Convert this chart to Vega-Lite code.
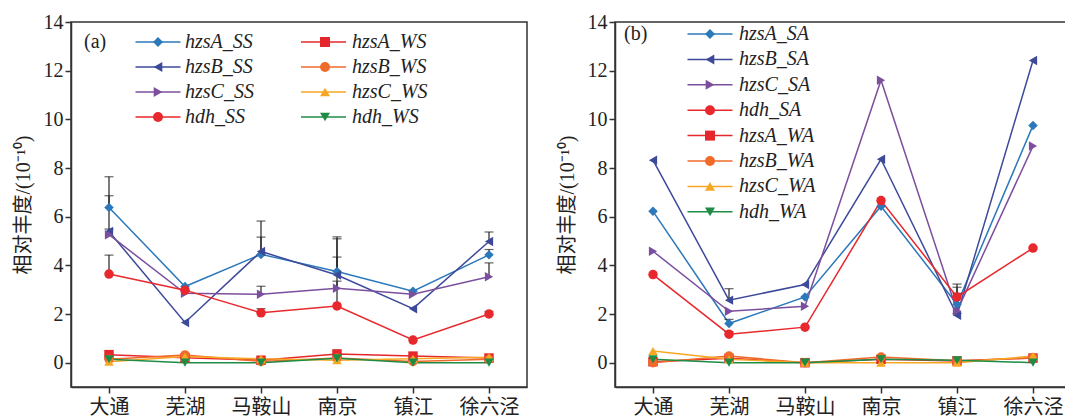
{
  "$schema": "https://vega.github.io/schema/vega-lite/v6.json",
  "background": "white",
  "padding": {"left": 12, "top": 11, "right": 0, "bottom": 0},
  "spacing": 28,
  "resolve": {"scale": {"color": "independent", "shape": "independent", "stroke": "independent", "y": "independent", "x": "independent"}, "legend": {"color": "independent", "shape": "independent", "stroke": "independent"}},
  "config": {
    "font": "Liberation Serif",
    "view": {"stroke": "#333333", "strokeWidth": 1.5},
    "axis": {
      "grid": false, "domainColor": "#333333", "domainWidth": 1.5,
      "tickColor": "#333333", "tickWidth": 1.5, "tickSize": 6,
      "labelFont": "Liberation Serif", "labelFontSize": 20, "labelColor": "#222222",
      "titleFont": "Liberation Serif, Noto Sans CJK SC", "titleFontSize": 20, "titleFontWeight": "normal", "titleColor": "#222222"
    },
    "legend": {
      "labelFont": "Liberation Serif", "labelFontStyle": "italic", "labelFontSize": 20, "labelColor": "#222222",
      "titleFont": "Liberation Serif", "titleFontStyle": "normal", "titleFontSize": 20, "titleFontWeight": "normal", "titleColor": "#222222",
      "titleOrient": "left", "titleAnchor": "start", "titleBaseline": "top",
      "symbolSize": 100, "symbolStrokeWidth": 1.5, "padding": 0, "rowPadding": 5
    }
  },
  "datasets": {
    "a": [
      {"site": "大通", "series": "hzsA_SS", "value": 6.38},
      {"site": "芜湖", "series": "hzsA_SS", "value": 3.13},
      {"site": "马鞍山", "series": "hzsA_SS", "value": 4.45},
      {"site": "南京", "series": "hzsA_SS", "value": 3.75},
      {"site": "镇江", "series": "hzsA_SS", "value": 2.94},
      {"site": "徐六泾", "series": "hzsA_SS", "value": 4.43},
      {"site": "大通", "series": "hzsB_SS", "value": 5.39},
      {"site": "芜湖", "series": "hzsB_SS", "value": 1.65},
      {"site": "马鞍山", "series": "hzsB_SS", "value": 4.57},
      {"site": "南京", "series": "hzsB_SS", "value": 3.6},
      {"site": "镇江", "series": "hzsB_SS", "value": 2.22},
      {"site": "徐六泾", "series": "hzsB_SS", "value": 4.98},
      {"site": "大通", "series": "hzsC_SS", "value": 5.26},
      {"site": "芜湖", "series": "hzsC_SS", "value": 2.85},
      {"site": "马鞍山", "series": "hzsC_SS", "value": 2.81},
      {"site": "南京", "series": "hzsC_SS", "value": 3.06},
      {"site": "镇江", "series": "hzsC_SS", "value": 2.81},
      {"site": "徐六泾", "series": "hzsC_SS", "value": 3.53},
      {"site": "大通", "series": "hdh_SS", "value": 3.64},
      {"site": "芜湖", "series": "hdh_SS", "value": 2.98},
      {"site": "马鞍山", "series": "hdh_SS", "value": 2.05},
      {"site": "南京", "series": "hdh_SS", "value": 2.33},
      {"site": "镇江", "series": "hdh_SS", "value": 0.93},
      {"site": "徐六泾", "series": "hdh_SS", "value": 2.0},
      {"site": "大通", "series": "hzsA_WS", "value": 0.33},
      {"site": "芜湖", "series": "hzsA_WS", "value": 0.2},
      {"site": "马鞍山", "series": "hzsA_WS", "value": 0.1},
      {"site": "南京", "series": "hzsA_WS", "value": 0.36},
      {"site": "镇江", "series": "hzsA_WS", "value": 0.27},
      {"site": "徐六泾", "series": "hzsA_WS", "value": 0.19},
      {"site": "大通", "series": "hzsB_WS", "value": 0.14},
      {"site": "芜湖", "series": "hzsB_WS", "value": 0.32},
      {"site": "马鞍山", "series": "hzsB_WS", "value": 0.05},
      {"site": "南京", "series": "hzsB_WS", "value": 0.19},
      {"site": "镇江", "series": "hzsB_WS", "value": 0.05},
      {"site": "徐六泾", "series": "hzsB_WS", "value": 0.14},
      {"site": "大通", "series": "hzsC_WS", "value": 0.04},
      {"site": "芜湖", "series": "hzsC_WS", "value": 0.25},
      {"site": "马鞍山", "series": "hzsC_WS", "value": 0.16},
      {"site": "南京", "series": "hzsC_WS", "value": 0.1},
      {"site": "镇江", "series": "hzsC_WS", "value": 0.16},
      {"site": "徐六泾", "series": "hzsC_WS", "value": 0.22},
      {"site": "大通", "series": "hdh_WS", "value": 0.14},
      {"site": "芜湖", "series": "hdh_WS", "value": 0.0},
      {"site": "马鞍山", "series": "hdh_WS", "value": 0.0},
      {"site": "南京", "series": "hdh_WS", "value": 0.18},
      {"site": "镇江", "series": "hdh_WS", "value": 0.0},
      {"site": "徐六泾", "series": "hdh_WS", "value": 0.0}
    ],
    "aerr": [
      {"site": "大通", "series": "hzsA_SS", "value": 6.38, "upper": 7.64},
      {"site": "大通", "series": "hzsB_SS", "value": 5.39, "upper": 6.86},
      {"site": "大通", "series": "hzsC_SS", "value": 5.26, "upper": 5.49},
      {"site": "大通", "series": "hdh_SS", "value": 3.64, "upper": 4.42},
      {"site": "马鞍山", "series": "hzsA_SS", "value": 4.45, "upper": 5.16},
      {"site": "马鞍山", "series": "hzsB_SS", "value": 4.57, "upper": 5.82},
      {"site": "马鞍山", "series": "hzsC_SS", "value": 2.81, "upper": 3.14},
      {"site": "马鞍山", "series": "hdh_SS", "value": 2.05, "upper": 2.22},
      {"site": "南京", "series": "hzsA_SS", "value": 3.75, "upper": 5.17},
      {"site": "南京", "series": "hzsB_SS", "value": 3.6, "upper": 5.09},
      {"site": "南京", "series": "hzsC_SS", "value": 3.06, "upper": 3.35},
      {"site": "南京", "series": "hdh_SS", "value": 2.33, "upper": 4.34},
      {"site": "徐六泾", "series": "hzsA_SS", "value": 4.43, "upper": 4.65},
      {"site": "徐六泾", "series": "hzsB_SS", "value": 4.98, "upper": 5.37},
      {"site": "徐六泾", "series": "hzsC_SS", "value": 3.53, "upper": 4.1},
      {"site": "徐六泾", "series": "hdh_SS", "value": 2.0, "upper": 2.11}
    ],
    "b": [
      {"site": "大通", "series": "hzsA_SA", "value": 6.22},
      {"site": "芜湖", "series": "hzsA_SA", "value": 1.61},
      {"site": "马鞍山", "series": "hzsA_SA", "value": 2.7},
      {"site": "南京", "series": "hzsA_SA", "value": 6.43},
      {"site": "镇江", "series": "hzsA_SA", "value": 2.4},
      {"site": "徐六泾", "series": "hzsA_SA", "value": 9.75},
      {"site": "大通", "series": "hzsB_SA", "value": 8.32},
      {"site": "芜湖", "series": "hzsB_SA", "value": 2.57},
      {"site": "马鞍山", "series": "hzsB_SA", "value": 3.21},
      {"site": "南京", "series": "hzsB_SA", "value": 8.36},
      {"site": "镇江", "series": "hzsB_SA", "value": 1.95},
      {"site": "徐六泾", "series": "hzsB_SA", "value": 12.42},
      {"site": "大通", "series": "hzsC_SA", "value": 4.58},
      {"site": "芜湖", "series": "hzsC_SA", "value": 2.11},
      {"site": "马鞍山", "series": "hzsC_SA", "value": 2.32},
      {"site": "南京", "series": "hzsC_SA", "value": 11.61},
      {"site": "镇江", "series": "hzsC_SA", "value": 2.12},
      {"site": "徐六泾", "series": "hzsC_SA", "value": 8.9},
      {"site": "大通", "series": "hdh_SA", "value": 3.62},
      {"site": "芜湖", "series": "hdh_SA", "value": 1.17},
      {"site": "马鞍山", "series": "hdh_SA", "value": 1.46},
      {"site": "南京", "series": "hdh_SA", "value": 6.66},
      {"site": "镇江", "series": "hdh_SA", "value": 2.7},
      {"site": "徐六泾", "series": "hdh_SA", "value": 4.71},
      {"site": "大通", "series": "hzsA_WA", "value": 0.04},
      {"site": "芜湖", "series": "hzsA_WA", "value": 0.18},
      {"site": "马鞍山", "series": "hzsA_WA", "value": 0.0},
      {"site": "南京", "series": "hzsA_WA", "value": 0.14},
      {"site": "镇江", "series": "hzsA_WA", "value": 0.07},
      {"site": "徐六泾", "series": "hzsA_WA", "value": 0.19},
      {"site": "大通", "series": "hzsB_WA", "value": 0.0},
      {"site": "芜湖", "series": "hzsB_WA", "value": 0.27},
      {"site": "马鞍山", "series": "hzsB_WA", "value": 0.0},
      {"site": "南京", "series": "hzsB_WA", "value": 0.23},
      {"site": "镇江", "series": "hzsB_WA", "value": 0.08},
      {"site": "徐六泾", "series": "hzsB_WA", "value": 0.2},
      {"site": "大通", "series": "hzsC_WA", "value": 0.48},
      {"site": "芜湖", "series": "hzsC_WA", "value": 0.14},
      {"site": "马鞍山", "series": "hzsC_WA", "value": 0.0},
      {"site": "南京", "series": "hzsC_WA", "value": 0.0},
      {"site": "镇江", "series": "hzsC_WA", "value": 0.0},
      {"site": "徐六泾", "series": "hzsC_WA", "value": 0.27},
      {"site": "大通", "series": "hdh_WA", "value": 0.14},
      {"site": "芜湖", "series": "hdh_WA", "value": 0.0},
      {"site": "马鞍山", "series": "hdh_WA", "value": 0.0},
      {"site": "南京", "series": "hdh_WA", "value": 0.14},
      {"site": "镇江", "series": "hdh_WA", "value": 0.1},
      {"site": "徐六泾", "series": "hdh_WA", "value": 0.0}
    ],
    "berr": [
      {"site": "芜湖", "series": "hzsB_SA", "value": 2.57, "upper": 3.04},
      {"site": "芜湖", "series": "hzsA_SA", "value": 1.61, "upper": 1.78},
      {"site": "芜湖", "series": "hdh_SA", "value": 1.17, "upper": 1.28},
      {"site": "镇江", "series": "hdh_SA", "value": 2.7, "upper": 3.23},
      {"site": "镇江", "series": "hzsA_SA", "value": 2.4, "upper": 3.1},
      {"site": "镇江", "series": "hzsC_SA", "value": 2.12, "upper": 2.85},
      {"site": "镇江", "series": "hzsB_SA", "value": 1.95, "upper": 2.02}
    ]
  },
  "hconcat": [
    {
      "width": 456, "height": 365,
      "layer": [
        {
          "data": {"name": "a"},
          "mark": {"type": "line", "strokeWidth": 1.5},
          "encoding": {
            "x": {"field": "site", "type": "nominal", "sort": ["大通", "芜湖", "马鞍山", "南京", "镇江", "徐六泾"], "scale": {"type": "point", "padding": 0.5}, "axis": {"title": null, "labelAngle": 0, "labelFont": "Noto Sans CJK SC", "labelFontSize": 20, "labelPadding": 4}},
            "y": {"field": "value", "type": "quantitative", "scale": {"domain": [-1, 14], "nice": false, "zero": false}, "axis": {"values": [0, 2, 4, 6, 8, 10, 12, 14], "title": "相对丰度/(10⁻¹⁰)", "titlePadding": 10}},
            "stroke": {"field": "series", "type": "nominal", "sort": ["hzsA_SS", "hzsB_SS", "hzsC_SS", "hdh_SS", "hzsA_WS", "hzsB_WS", "hzsC_WS", "hdh_WS"], "scale": {"range": ["#2B78BA", "#3D4A9A", "#7B4F9E", "#E8282C", "#E5262B", "#F06A2A", "#F7A823", "#1E8C45"]}, "legend": {"orient": "none", "legendX": 13, "legendY": 10, "columns": 2, "title": "(a)", "titlePadding": 41, "labelOffset": 17, "columnPadding": 43.5, "symbolSize": 100, "symbolType": "M-4.5,0H4.5", "symbolStrokeWidth": 1.5, "labelColor": "rgba(0,0,0,0)", "titleColor": "rgba(0,0,0,0)"}},
            "order": {"value": null}
          }
        },
        {
          "data": {"name": "aerr"},
          "mark": {"type": "rule", "color": "#222222", "strokeWidth": 1.2},
          "encoding": {
            "x": {"field": "site", "type": "nominal", "sort": ["大通", "芜湖", "马鞍山", "南京", "镇江", "徐六泾"]},
            "y": {"field": "value", "type": "quantitative", "axis": {"values": [0, 2, 4, 6, 8, 10, 12, 14], "title": "相对丰度/(10⁻¹⁰)", "titlePadding": 10}},
            "y2": {"field": "upper"}
          }
        },
        {
          "data": {"name": "aerr"},
          "mark": {"type": "tick", "color": "#222222", "thickness": 1.2, "size": 9},
          "encoding": {
            "x": {"field": "site", "type": "nominal", "sort": ["大通", "芜湖", "马鞍山", "南京", "镇江", "徐六泾"]},
            "y": {"field": "upper", "type": "quantitative", "axis": {"values": [0, 2, 4, 6, 8, 10, 12, 14], "title": "相对丰度/(10⁻¹⁰)", "titlePadding": 10}}
          }
        },
        {
          "data": {"name": "a"},
          "mark": {"type": "point", "filled": true, "opacity": 1, "size": 90},
          "encoding": {
            "x": {"field": "site", "type": "nominal", "sort": ["大通", "芜湖", "马鞍山", "南京", "镇江", "徐六泾"]},
            "y": {"field": "value", "type": "quantitative", "axis": {"values": [0, 2, 4, 6, 8, 10, 12, 14], "title": "相对丰度/(10⁻¹⁰)", "titlePadding": 10}},
            "color": {"field": "series", "type": "nominal", "scale": {"domain": ["hzsA_SS", "hzsB_SS", "hzsC_SS", "hdh_SS", "hzsA_WS", "hzsB_WS", "hzsC_WS", "hdh_WS"], "range": ["#2B78BA", "#3D4A9A", "#7B4F9E", "#E8282C", "#E5262B", "#F06A2A", "#F7A823", "#1E8C45"]}, "legend": {"orient": "none", "legendX": 13, "legendY": 10, "columns": 2, "title": "(a)", "titlePadding": 41, "labelOffset": 17, "columnPadding": 61, "symbolSize": 100}},
            "shape": {"field": "series", "type": "nominal", "scale": {"domain": ["hzsA_SS", "hzsB_SS", "hzsC_SS", "hdh_SS", "hzsA_WS", "hzsB_WS", "hzsC_WS", "hdh_WS"], "range": ["diamond", "triangle-left", "triangle-right", "circle", "square", "circle", "triangle-up", "triangle-down"]}, "legend": {"orient": "none", "legendX": 13, "legendY": 10, "columns": 2, "title": "(a)", "titlePadding": 41, "labelOffset": 17, "columnPadding": 61, "symbolSize": 100}}
          }
        }
      ]
    },
    {
      "width": 456, "height": 365,
      "layer": [
        {
          "data": {"name": "b"},
          "mark": {"type": "line", "strokeWidth": 1.5},
          "encoding": {
            "x": {"field": "site", "type": "nominal", "sort": ["大通", "芜湖", "马鞍山", "南京", "镇江", "徐六泾"], "scale": {"type": "point", "padding": 0.5}, "axis": {"title": null, "labelAngle": 0, "labelFont": "Noto Sans CJK SC", "labelFontSize": 20, "labelPadding": 4}},
            "y": {"field": "value", "type": "quantitative", "scale": {"domain": [-1, 14], "nice": false, "zero": false}, "axis": {"values": [0, 2, 4, 6, 8, 10, 12, 14], "title": "相对丰度/(10⁻¹⁰)", "titlePadding": 10}},
            "stroke": {"field": "series", "type": "nominal", "sort": ["hzsA_SA", "hzsB_SA", "hzsC_SA", "hdh_SA", "hzsA_WA", "hzsB_WA", "hzsC_WA", "hdh_WA"], "scale": {"range": ["#2B78BA", "#3D4A9A", "#7B4F9E", "#E8282C", "#E5262B", "#F06A2A", "#F7A823", "#1E8C45"]}, "legend": {"orient": "none", "legendX": 9, "legendY": 2, "title": "(b)", "titlePadding": 52, "labelOffset": 19, "rowPadding": 5.4, "symbolSize": 100, "symbolType": "M-4.5,0H4.5", "symbolStrokeWidth": 1.5, "labelColor": "rgba(0,0,0,0)", "titleColor": "rgba(0,0,0,0)"}},
            "order": {"value": null}
          }
        },
        {
          "data": {"name": "berr"},
          "mark": {"type": "rule", "color": "#222222", "strokeWidth": 1.2},
          "encoding": {
            "x": {"field": "site", "type": "nominal", "sort": ["大通", "芜湖", "马鞍山", "南京", "镇江", "徐六泾"]},
            "y": {"field": "value", "type": "quantitative", "axis": {"values": [0, 2, 4, 6, 8, 10, 12, 14], "title": "相对丰度/(10⁻¹⁰)", "titlePadding": 10}},
            "y2": {"field": "upper"}
          }
        },
        {
          "data": {"name": "berr"},
          "mark": {"type": "tick", "color": "#222222", "thickness": 1.2, "size": 9},
          "encoding": {
            "x": {"field": "site", "type": "nominal", "sort": ["大通", "芜湖", "马鞍山", "南京", "镇江", "徐六泾"]},
            "y": {"field": "upper", "type": "quantitative", "axis": {"values": [0, 2, 4, 6, 8, 10, 12, 14], "title": "相对丰度/(10⁻¹⁰)", "titlePadding": 10}}
          }
        },
        {
          "data": {"name": "b"},
          "mark": {"type": "point", "filled": true, "opacity": 1, "size": 90},
          "encoding": {
            "x": {"field": "site", "type": "nominal", "sort": ["大通", "芜湖", "马鞍山", "南京", "镇江", "徐六泾"]},
            "y": {"field": "value", "type": "quantitative", "axis": {"values": [0, 2, 4, 6, 8, 10, 12, 14], "title": "相对丰度/(10⁻¹⁰)", "titlePadding": 10}},
            "color": {"field": "series", "type": "nominal", "scale": {"domain": ["hzsA_SA", "hzsB_SA", "hzsC_SA", "hdh_SA", "hzsA_WA", "hzsB_WA", "hzsC_WA", "hdh_WA"], "range": ["#2B78BA", "#3D4A9A", "#7B4F9E", "#E8282C", "#E5262B", "#F06A2A", "#F7A823", "#1E8C45"]}, "legend": {"orient": "none", "legendX": 9, "legendY": 2, "title": "(b)", "titlePadding": 52, "labelOffset": 19, "rowPadding": 5.4, "symbolSize": 100}},
            "shape": {"field": "series", "type": "nominal", "scale": {"domain": ["hzsA_SA", "hzsB_SA", "hzsC_SA", "hdh_SA", "hzsA_WA", "hzsB_WA", "hzsC_WA", "hdh_WA"], "range": ["diamond", "triangle-left", "triangle-right", "circle", "square", "circle", "triangle-up", "triangle-down"]}, "legend": {"orient": "none", "legendX": 9, "legendY": 2, "title": "(b)", "titlePadding": 52, "labelOffset": 19, "rowPadding": 5.4, "symbolSize": 100}}
          }
        }
      ]
    }
  ]
}
